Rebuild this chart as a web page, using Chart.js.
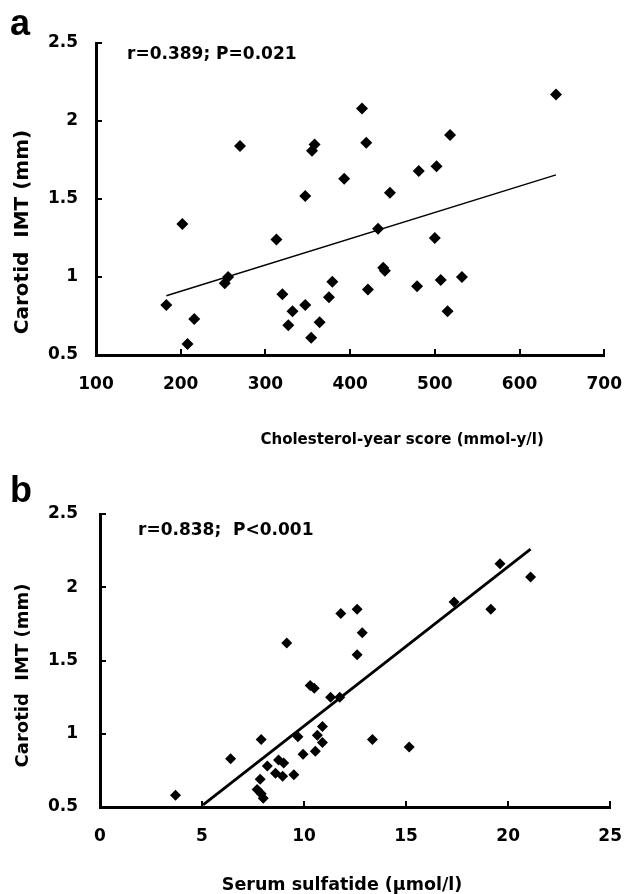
<!DOCTYPE html>
<html>
<head>
<meta charset="utf-8">
<script src="https://cdn.jsdelivr.net/npm/chart.js@4"></script>
<style>
  body { margin: 0; background: #fff; width: 641px; height: 894px; overflow: hidden; }
  .panel { position: relative; width: 641px; height: 447px; }
  .panel canvas { position: absolute; left: 0; top: 0; }
  .letter { position: absolute; font: bold 36px "Liberation Sans", Arial, sans-serif; color: #000; line-height: 36px; }
</style>
</head>
<body>
<div class="panel">
  <canvas id="chart_a" width="641" height="447"></canvas>
  <div class="letter" style="left:10px; top:5px;">a</div>
</div>
<div class="panel">
  <canvas id="chart_b" width="641" height="447"></canvas>
  <div class="letter" style="left:10px; top:25px;">b</div>
</div>
<script>
// panel a: cholesterol-year score vs carotid IMT
var cholYearScore = [183, 202, 208, 216, 252, 256, 270, 313, 320, 327, 332, 347, 347, 354, 355, 358, 364, 375, 379, 393,
                     414, 419, 421, 433, 439, 441, 447, 479, 481, 500, 502, 507, 515, 518, 532, 643];
var imtA = [0.82, 1.34, 0.57, 0.73, 0.96, 1.0, 1.84, 1.24, 0.89, 0.69, 0.78, 1.52, 0.82, 0.61, 1.81, 1.85, 0.71, 0.87, 0.97, 1.63,
            2.08, 1.86, 0.92, 1.31, 1.06, 1.04, 1.54, 0.94, 1.68, 1.25, 1.71, 0.98, 0.78, 1.91, 1.0, 2.17];
var fitAX = [183, 643];
var fitAY = [0.88, 1.655];

// panel b: serum sulfatide vs carotid IMT
var sulfatide = [3.7, 6.4, 7.9, 7.85, 7.7, 7.9, 8.0, 8.2, 8.6, 8.75, 8.95, 9.0, 9.15, 9.5, 9.7, 9.95, 10.3, 10.5, 10.55, 10.65,
                 10.9, 10.9, 11.3, 11.75, 11.8, 12.6, 12.85, 12.6, 13.35, 15.15, 17.35, 19.15, 19.6, 21.1];
var imtB = [0.58, 0.83, 0.96, 0.69, 0.62, 0.59, 0.56, 0.78, 0.73, 0.82, 0.71, 0.80, 1.62, 0.72, 0.98, 0.86, 1.33, 1.31, 0.88, 0.99,
            1.05, 0.94, 1.25, 1.25, 1.82, 1.85, 1.69, 1.54, 0.96, 0.91, 1.90, 1.85, 2.16, 2.07];
var fitBX = [5.05, 21.1];
var fitBY = [0.515, 2.26];

var yTitle = "Carotid  IMT (mm)";
var yTicks = { min: 0.5, max: 2.5, step: 0.5 };
var tickFont = { family: "DejaVu Sans", weight: "bold", size: 17 };

function toPoints(xs, ys) {
    var pts = [];
    for (var i = 0; i < xs.length; i++) pts.push({ x: xs[i], y: ys[i] });
    return pts;
}

function makePanel(canvasId, p) {
    // inward tick marks, axis titles and the r/P label
    var extras = {
        id: 'extras_' + canvasId,
        afterDatasetsDraw: function (chart) {
            var ctx = chart.ctx;
            var xs = chart.scales.x, ys = chart.scales.y;
            ctx.save();
            ctx.strokeStyle = '#000';
            ctx.lineWidth = 2;
            xs.ticks.forEach(function (t) {
                var px = Math.round(xs.getPixelForValue(t.value));
                ctx.beginPath();
                ctx.moveTo(px, ys.bottom);
                ctx.lineTo(px, ys.bottom - 6);
                ctx.stroke();
            });
            ys.ticks.forEach(function (t) {
                var py = Math.round(ys.getPixelForValue(t.value));
                ctx.beginPath();
                ctx.moveTo(xs.left, py);
                ctx.lineTo(xs.left + 6, py);
                ctx.stroke();
            });
            ctx.fillStyle = '#000';
            ctx.textBaseline = 'middle';

            ctx.font = 'bold 17px "DejaVu Sans"';
            ctx.textAlign = 'left';
            ctx.fillText(p.stat, xs.left + p.statDx, ys.top + p.statDy);

            ctx.textAlign = 'center';
            ctx.font = 'bold ' + p.xTitleSize + 'px "DejaVu Sans"';
            ctx.fillText(p.xTitle, (xs.left + xs.right) / 2 + p.xTitleDx, p.xTitleY);

            ctx.translate(p.yTitleX, (ys.top + ys.bottom) / 2 + p.yTitleDy);
            ctx.rotate(-Math.PI / 2);
            ctx.font = 'bold ' + p.yTitleSize + 'px "DejaVu Sans"';
            ctx.fillText(yTitle, 0, 0);
            ctx.restore();
        }
    };

    return new Chart(document.getElementById(canvasId), {
        type: 'scatter',
        data: {
            datasets: [{
                data: toPoints(p.x, p.y),
                pointStyle: 'rectRot',
                pointRadius: p.markerSize,
                backgroundColor: '#000',
                borderColor: '#000',
                borderWidth: 0
            }, {
                type: 'line',
                data: toPoints(p.fitX, p.fitY),
                borderColor: '#000',
                borderWidth: p.fitWidth,
                pointRadius: 0,
                fill: false
            }]
        },
        options: {
            responsive: false,
            devicePixelRatio: 1,
            animation: false,
            layout: { autoPadding: false, padding: p.padding },
            plugins: { legend: { display: false }, tooltip: { enabled: false } },
            scales: {
                x: {
                    type: 'linear',
                    min: p.xMin, max: p.xMax,
                    afterFit: function (scale) { scale.height = p.xHeight; },
                    ticks: { stepSize: p.xStep, color: '#000', font: tickFont, padding: p.xTickPad, maxRotation: 0 },
                    grid: { display: false, drawTicks: false },
                    border: { color: '#000', width: 3 }
                },
                y: {
                    type: 'linear',
                    min: yTicks.min, max: yTicks.max,
                    afterFit: function (scale) { scale.width = p.yWidth; },
                    ticks: {
                        stepSize: yTicks.step, color: '#000', font: tickFont, padding: p.yTickPad,
                        callback: function (v) { return String(v); }
                    },
                    grid: { display: false, drawTicks: false },
                    border: { color: '#000', width: 3 }
                }
            }
        },
        plugins: [extras]
    });
}

makePanel('chart_a', {
    x: cholYearScore, y: imtA, fitX: fitAX, fitY: fitAY, fitWidth: 1.4, markerSize: 6,
    xMin: 100, xMax: 700, xStep: 100,
    xTitle: "Cholesterol-year score (mmol-y/l)", xTitleSize: 15, xTitleDx: 52, xTitleY: 440,
    yTitleSize: 20, yTitleX: 23, yTitleDy: 33,
    stat: "r=0.389; P=0.021", statDx: 31, statDy: 12,
    padding: { top: 43, right: 19, left: 0, bottom: 0 },
    xHeight: 92, yWidth: 96, xTickPad: 19, yTickPad: 18
});

makePanel('chart_b', {
    x: sulfatide, y: imtB, fitX: fitBX, fitY: fitBY, fitWidth: 2.8, markerSize: 5.5,
    xMin: 0, xMax: 25, xStep: 5,
    xTitle: "Serum sulfatide (\u03bcmol/l)", xTitleSize: 17.5, xTitleDx: -13, xTitleY: 438,
    yTitleSize: 18, yTitleX: 23, yTitleDy: 15,
    stat: "r=0.838;  P<0.001", statDx: 38, statDy: 17,
    padding: { top: 67, right: 10, left: 0, bottom: 0 },
    xHeight: 87, yWidth: 100, xTickPad: 19, yTickPad: 22
});
</script>
</body>
</html>
